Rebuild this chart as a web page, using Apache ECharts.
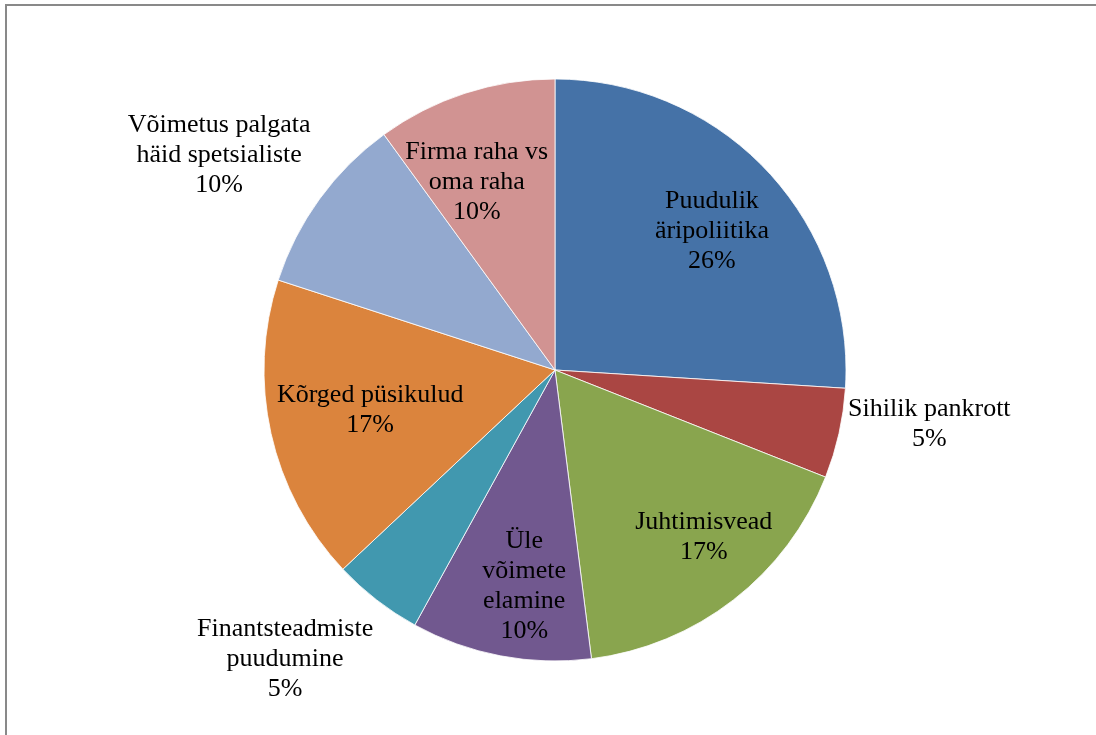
<!DOCTYPE html>
<html>
<head>
<meta charset="utf-8">
<script src="https://cdn.jsdelivr.net/npm/echarts@6/dist/echarts.min.js"></script>
<style>
  html, body { margin: 0; padding: 0; background: #fff; }
  #chart { width: 1096px; height: 735px; }
</style>
</head>
<body>
<div id="chart"></div>
<script>
// Reasons for business failure, share of answers (%)
const categories = [
  'Puudulik\näripoliitika',
  'Sihilik pankrott',
  'Juhtimisvead',
  'Üle\nvõimete\nelamine',
  'Finantsteadmiste\npuudumine',
  'Kõrged püsikulud',
  'Võimetus palgata\nhäid spetsialiste',
  'Firma raha vs\noma raha'
];
const shares = [26, 5, 17, 10, 5, 17, 10, 10];
const sliceColors = ['#4572A7', '#AA4643', '#89A54E', '#71588F', '#4198AF', '#DB843D', '#93A9CF', '#D19392'];

// Pie geometry (pixels)
const CX = 555, CY = 370, R = 291;
// Label placement per slice: [angle nudge from slice middle in degrees, distance as a fraction of R]
const labelPlacement = [
  [1.7, 0.72], [-4.3, 1.30], [-3.8, 0.77], [-2.7, 0.75],
  [5.2, 1.36], [0.3, 0.65], [-3.4, 1.37], [-4.6, 0.70]
];

const total = shares.reduce((a, b) => a + b, 0);
function midAngle(i) {
  let before = 0;
  for (let k = 0; k < i; k++) before += shares[k];
  return (before + shares[i] / 2) / total * 360; // clockwise from top
}

const chart = echarts.init(document.getElementById('chart'), null, { renderer: 'canvas' });
chart.setOption({
  backgroundColor: '#ffffff',
  animation: false,
  graphic: [{
    type: 'rect',
    shape: { x: 6, y: 5, width: 1200, height: 1000 },
    style: { fill: 'none', stroke: '#898989', lineWidth: 2 },
    silent: true
  }],
  series: [{
    type: 'pie',
    center: [CX, CY],
    radius: [0, R],
    startAngle: 90,
    clockwise: true,
    avoidLabelOverlap: false,
    data: categories.map((name, i) => ({
      name: name,
      value: shares[i],
      itemStyle: { color: sliceColors[i] }
    })),
    itemStyle: { borderColor: '#ffffff', borderWidth: 0.8 },
    label: {
      show: true,
      position: 'inside',
      formatter: '{b}\n{c}%',
      color: '#000000',
      fontFamily: 'Liberation Serif',
      fontSize: 26,
      lineHeight: 30,
      align: 'center'
    },
    labelLine: { show: false },
    labelLayout: function (params) {
      const i = params.dataIndex;
      const p = labelPlacement[i];
      const a = (midAngle(i) + p[0]) * Math.PI / 180;
      const d = p[1] * R;
      return {
        x: CX + Math.sin(a) * d,
        y: CY - Math.cos(a) * d,
        align: 'center',
        verticalAlign: 'middle'
      };
    }
  }]
});
</script>
</body>
</html>
